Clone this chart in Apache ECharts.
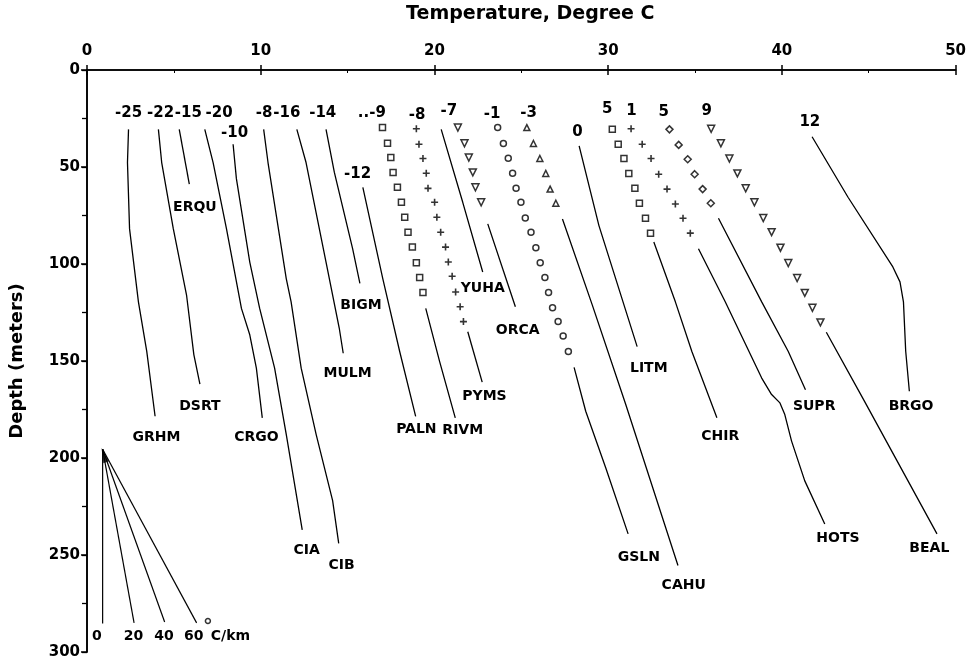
<!DOCTYPE html>
<html>
<head>
<meta charset="utf-8">
<script src="https://cdn.jsdelivr.net/npm/echarts@6/dist/echarts.min.js"></script>
<style>
html,body{margin:0;padding:0;background:#fff;}
#chart{width:969px;height:660px;}
</style>
</head>
<body>
<div id="chart"></div>
<script>
// ---- Axis ticks ----
const temperatureTicks = [0, 10, 20, 30, 40, 50];
const depthTicks = [0, 50, 100, 150, 200, 250, 300];

// ---- Profiles drawn as lines: [temperature C, depth m] ----
const GRHM = [[2.39,30.6],[2.33,47.7],[2.45,81.9],[2.96,119.5],[3.44,145],[3.92,178.5]];
const DSRT = [[4.11,30.6],[4.3,47.7],[4.97,81.9],[5.73,116],[6.15,146.7],[6.5,161.9]];
const ERQU = [[5.31,30.6],[5.89,58.8]];
const CRGO = [[6.78,30.6],[7.26,47.7],[8.03,81.9],[8.89,122.9],[9.37,136.5],[9.75,153.7],[10.09,179.3]];
const CIA  = [[8.41,38.3],[8.6,56],[9.37,99],[9.94,122.9],[10.8,153.7],[11.47,187.8],[12.39,237]];
const CIB  = [[10.17,30.6],[10.42,47.7],[11.47,107.5],[11.75,119.5],[12.33,153.7],[13.19,187.8],[14.14,222],[14.49,244]];
const MULM = [[12.08,30.6],[12.61,47.7],[13.76,99],[14.52,133],[14.75,146]];
const BIGM = [[13.76,30.6],[14.24,52.8],[15.29,92.1],[15.71,110]];
const PALN = [[15.88,60.5],[17.03,107.7],[18.0,145.1],[18.92,178.5]];
const RIVM = [[19.5,122.9],[20.3,150.3],[21.2,179.3]];
const PYMS = [[21.92,134.9],[22.75,160.9]];
const YUHA = [[20.39,30.6],[21.63,68.2],[22.78,104.1]];
const ORCA = [[23.07,79.3],[24.66,122]];
const GSLN = [[28.04,153.3],[28.71,175.9],[29.86,205],[31.15,239.1]];
const CAHU = [[27.37,76.8],[29.09,121.2],[31.0,172],[34.02,255.4]];
const LITM = [[28.33,39.1],[29.47,80.2],[31.67,142.6]];
const CHIR = [[32.63,88.7],[33.87,119.5],[34.82,145.1],[36.26,179.3]];
const HOTS = [[35.2,92.1],[36.74,119.5],[38.84,158.8],[39.41,167.3],[39.89,171.6],[40.17,177.6],[40.56,191.3],[41.32,211.8],[42.47,234]];
const SUPR = [[36.35,76.4],[38.84,119.5],[40.37,145.1],[41.36,164.8]];
const BEAL = [[42.56,135.2],[44.76,170.8],[48.93,239.1]];
const BRGO = [[41.74,34.4],[43.81,65.6],[46.39,101.5],[46.8,109.2],[47.0,119.5],[47.13,145],[47.34,165.6]];

// ---- Profiles drawn as symbols ----
const squaresA = [[17.01,29.7],[17.30,37.8],[17.49,45.1],[17.62,52.8],[17.87,60.5],[18.10,68.2],[18.29,75.9],[18.48,83.6],[18.73,91.3],[18.96,99.3],[19.15,107],[19.34,114.7]];
const crossesA = [[18.96,30.3],[19.11,38.3],[19.34,45.6],[19.53,53.2],[19.63,61],[20.01,68.2],[20.14,75.9],[20.36,83.6],[20.64,91.3],[20.8,99],[21.02,106.3],[21.22,114.4],[21.48,122],[21.67,129.7]];
const trianglesDownA = [[21.35,29.7],[21.73,37.8],[21.98,45.1],[22.21,52.8],[22.36,60.5],[22.69,68.2]];
const circlesA = [[23.64,29.7],[23.97,37.9],[24.25,45.5],[24.5,53.2],[24.7,60.9],[24.98,68.2],[25.23,76.3],[25.56,83.6],[25.84,91.6],[26.09,99.3],[26.36,107],[26.57,114.7],[26.8,122.6],[27.12,129.7],[27.41,137.1],[27.71,145.1]];
const trianglesUpA = [[25.32,29.7],[25.7,37.9],[26.07,45.6],[26.41,53.3],[26.66,61.4],[26.99,68.7]];
const squaresB = [[30.24,30.6],[30.58,38.3],[30.91,45.6],[31.19,53.3],[31.54,61],[31.8,68.7],[32.15,76.4],[32.44,84.1]];
const crossesB = [[31.32,30.3],[31.96,38.3],[32.47,45.6],[32.91,53.7],[33.39,61.4],[33.87,69.1],[34.31,76.4],[34.73,84.1]];
const diamondsB = [[33.53,30.6],[34.06,38.6],[34.58,46],[34.98,53.7],[35.44,61.4],[35.91,68.7]];
const trianglesDownB = [[35.93,30.3],[36.49,37.8],[36.98,45.6],[37.44,53.3],[37.92,61],[38.42,68.2],[38.93,76.3],[39.41,83.6],[39.92,91.6],[40.37,99.5],[40.88,107.2],[41.32,114.9],[41.76,122.6],[42.22,130.1]];

// ---- Labels: [text, temperature, depth] ----
const gradientLabels = [
  ['-25',2.39,22],['-22',4.24,22],['-15',5.83,22],['-20',7.6,22],['-10',8.5,32.3],
  ['-8',10.2,22],['-16',11.5,22],['-14',13.57,22],['..-9',16.4,22.4],['-12',15.58,53.7],
  ['-8',19.0,23.4],['-7',20.83,21.2],['-1',23.32,22.9],['-3',25.42,22.4],['0',28.23,32],
  ['5',29.95,20.4],['1',31.34,21.2],['5',33.2,21.7],['9',35.68,21.2],['12',41.61,26.8]
];
const stationLabels = [
  ['GRHM',4.0,189.6],['DSRT',6.5,173.3],['ERQU',6.21,70.8],['CRGO',9.75,189.6],
  ['CIA',12.65,247.7],['CIB',14.66,255.4],['MULM',15.0,156.3],['BIGM',15.77,121.2],
  ['PALN',18.96,185.3],['RIVM',21.63,185.8],['PYMS',22.88,168.2],['YUHA',22.78,112.7],
  ['ORCA',24.79,134],['LITM',32.34,153.7],['GSLN',31.77,251],['CAHU',34.35,265.6],
  ['CHIR',36.45,188.7],['HOTS',43.23,241.2],['SUPR',41.86,173.3],['BRGO',47.44,173.3],
  ['BEAL',48.49,246.8]
];

// ---- Gradient scale key (C/km) ----
const keyApex = [0.9, 195.5];
const keyEnds = [[0.9,285.3],[2.71,285],[4.47,284.5],[6.31,285]];
const keyLabels = [['0',0.57,292],['20',2.68,292],['40',4.43,292],['60',6.15,292],['C/km',8.26,292]];
const keyDegree = [[6.96,284]];
const keyArrow = [[0.97,198.5]];

const FONT = 'DejaVu Sans';
const lineProfiles = [GRHM,DSRT,ERQU,CRGO,CIA,CIB,MULM,BIGM,PALN,RIVM,PYMS,YUHA,ORCA,GSLN,CAHU,LITM,CHIR,HOTS,SUPR,BEAL,BRGO];

const series = [];
function addLine(data, w) {
  series.push({type:'line', data:data, showSymbol:false, symbol:'none', silent:true,
    lineStyle:{color:'#000', width:w||1.3}, animation:false, z:2});
}
lineProfiles.forEach(d => addLine(d));
keyEnds.forEach(e => addLine([keyApex, e], 1.2));

function addSymbols(data, symbol, size) {
  series.push({type:'scatter', data:data, symbol:symbol, symbolSize:size, silent:true, animation:false,
    itemStyle:{color:'#fff', borderColor:'#000', borderWidth:1.5}, z:3});
}
const CROSS = 'path://M5,0L5,10M0,5L10,5';
const TDOWN = 'path://M0,0L10,0L5,9Z';
addSymbols(squaresA,'rect',6);
series.push({type:'scatter', data:crossesA, symbol:CROSS, symbolSize:7, silent:true, animation:false,
  itemStyle:{color:'transparent', borderColor:'#000', borderWidth:1.6}, z:3});
addSymbols(trianglesDownA, TDOWN, 7);
addSymbols(circlesA,'circle',6);
addSymbols(trianglesUpA,'triangle',6);
addSymbols(squaresB,'rect',6);
series.push({type:'scatter', data:crossesB, symbol:CROSS, symbolSize:7, silent:true, animation:false,
  itemStyle:{color:'transparent', borderColor:'#000', borderWidth:1.6}, z:3});
addSymbols(diamondsB,'diamond',7);
addSymbols(trianglesDownB, TDOWN, 7);
addSymbols(keyDegree,'circle',5);
series.push({type:'scatter', data:keyArrow, symbol:'triangle', symbolSize:[6,15], symbolRotate:18,
  silent:true, animation:false, itemStyle:{color:'#000'}, z:3});

function addText(list, size) {
  series.push({type:'scatter', silent:true, animation:false, symbolSize:0,
    itemStyle:{color:'#000'}, z:5,
    data:list.map(l => ({name:l[0], value:[l[1], l[2]]})),
    label:{show:true, position:'inside', formatter:p => p.name, color:'#000',
      textBorderWidth:0, opacity:1,
      fontFamily:FONT, fontWeight:'bold', fontSize:size}});
}
addText(gradientLabels, 15);
addText(stationLabels, 14);
addText(keyLabels, 14);

const tMin = temperatureTicks[0], tMax = temperatureTicks[temperatureTicks.length-1];
const tStep = temperatureTicks[1]-temperatureTicks[0];
const dMin = depthTicks[0], dMax = depthTicks[depthTicks.length-1];
const dStep = depthTicks[1]-depthTicks[0];

const axisLine = {show:true, lineStyle:{color:'#000', width:1.6}};
const labelStyle = {color:'#000', fontFamily:FONT, fontWeight:'bold', fontSize:15};

const option = {
  backgroundColor:'#fff',
  animation:false,
  grid:{left:86, right:11, top:67, bottom:8, containLabel:false},
  xAxis:[
    {type:'value', position:'top', min:tMin, max:tMax, interval:tStep,
     name:'Temperature, Degree C', nameLocation:'middle', nameGap:46,
     nameTextStyle:{color:'#000', fontFamily:FONT, fontWeight:'bold', fontSize:19, padding:[0,0,0,18]},
     axisLine:axisLine, axisTick:{show:true, inside:true, length:5, lineStyle:{color:'#000', width:1.5}},
     minorTick:{show:true, splitNumber:2, length:3, lineStyle:{color:'#000', width:1}},
     axisLabel:Object.assign({margin:11}, labelStyle), splitLine:{show:false}},
    {type:'value', position:'bottom', min:tMin, max:tMax, interval:tStep,
     axisLine:axisLine, axisTick:{show:true, inside:true, length:5, lineStyle:{color:'#000', width:1.5}},
     axisLabel:{show:false}, splitLine:{show:false}}
  ],
  yAxis:[
    {type:'value', inverse:true, min:dMin, max:dMax, interval:dStep,
     name:'Depth (meters)', nameLocation:'middle', nameGap:61, nameRotate:90,
     nameTextStyle:{color:'#000', fontFamily:FONT, fontWeight:'bold', fontSize:18},
     axisLine:axisLine, axisTick:{show:true, inside:false, length:6, lineStyle:{color:'#000', width:1.5}},
     minorTick:{show:true, splitNumber:2, length:4, lineStyle:{color:'#000', width:1}},
     axisLabel:Object.assign({margin:7}, labelStyle), splitLine:{show:false}},
    {type:'value', position:'right', inverse:true, min:dMin, max:dMax, interval:dStep/2,
     axisLine:axisLine, axisTick:{show:true, inside:true, length:5, lineStyle:{color:'#000', width:1.3}},
     axisLabel:{show:false}, splitLine:{show:false}}
  ],
  series:series
};

const chart = echarts.init(document.getElementById('chart'), null, {renderer:'canvas'});
chart.setOption(option);
</script>
</body>
</html>
